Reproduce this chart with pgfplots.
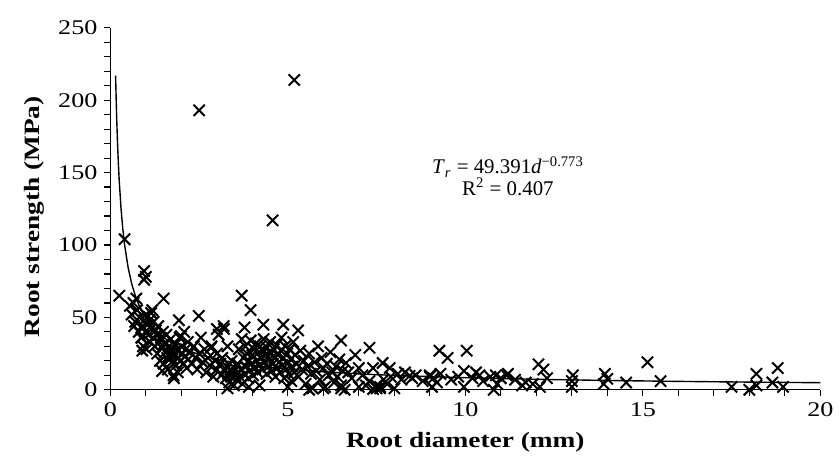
\documentclass[border=0pt]{standalone}
\usepackage{fontspec}
\setmainfont{Liberation Serif}[FakeStretch=1.25]
\newfontfamily\eqfont{Liberation Serif}
\usepackage{pgfplots}
\pgfplotsset{compat=1.18}
\begin{document}
\begin{tikzpicture}
\begin{axis}[
  name=ax,
  scale only axis,
  width=357pt, height=182pt,
  xmin=0, xmax=20, ymin=0, ymax=250,
  axis lines*=left,
  axis line style={line width=0.7pt},
  xtick={0,5,10,15,20}, minor x tick num=4,
  ytick={0,50,100,150,200,250}, minor y tick num=4,
  tick align=outside,
  major tick length=3pt, minor tick length=3pt,
  tick style={black, line width=0.6pt},
  /pgf/number format/assume math mode=true,
  ticklabel style={font=\fontsize{10.5}{12}\selectfont},
  xlabel={\textbf{Root diameter (mm)}},
  ylabel={\textbf{Root strength (MPa)}},
  label style={font=\fontsize{11}{13}\selectfont},
  xlabel style={yshift=-1pt},
  ylabel style={yshift=0pt, xshift=-4pt},
  clip=false,
]
\addplot[only marks, mark=x, mark size=4pt, line width=1pt, black] coordinates {
(2.50,193) (5.18,214) (4.57,117) (0.40,104)
(0.25,65) (0.73,63) (0.95,82) (0.95,76) (1.0,78) (1.5,63) (1.15,53) (1.93,48) (2.49,51)
(0.67,44) (0.87,36) (0.90,27) (1.32,38) (1.99,37) (1.71,22) (1.46,13) (1.79,8) (3.0,42) (2.83,29)
(3.70,65) (3.95,55) (4.31,45) (4.87,45) (3.19,44) (3.78,43) (5.29,41)
(6.5,34) (7.3,29) (6.9,24) (7.67,18.5) (6.64,18.5) (7.4,15) (7.87,15) (8.43,9.6) (9.0,10) (9.27,27)
(9.5,22) (10.04,27) (9.96,13) (10.4,10) (10.86,10) (11.16,10) (12.06,17.6) (12.2,14) (13.03,10)
(13.93,11) (14.0,7.5) (14.53,5) (15.13,19) (15.5,6) (17.5,2) (18.0,0) (18.2,11) (18.8,15) (18.65,5)
(18.95,2) (18.2,3) (11.9,4) (11.6,3) (10.8,0) (9.96,2) (9.06,2) (8.0,1) (7.5,1) (7.6,1) (7.4,0.5)
(13.0,2) (13.9,4)
(0.55,58) (0.6,52) (0.65,60) (0.7,47) (0.75,55) (0.8,40) (0.82,50) (0.88,36) (0.9,44) (0.92,30)
(0.95,48) (0.98,40) (1.0,52) (1.02,28) (1.05,45) (1.08,38) (1.1,48) (1.12,33) (1.15,42) (1.18,55)
(1.2,36) (1.22,47) (1.25,30) (1.28,41) (1.3,38) (1.32,25) (1.35,44) (1.38,33) (1.4,20) (1.42,36)
(1.45,29) (1.48,40) (1.5,18) (1.52,32) (1.55,26) (1.58,38) (1.6,22) (1.62,14) (1.65,30) (1.68,25)
(1.7,35) (1.72,19) (1.75,28) (1.78,10) (1.8,24) (1.82,31) (1.85,17) (1.88,27) (1.9,12) (1.92,22)
(1.95,36) (1.98,20) (2.0,30) (2.02,25) (2.05,18) (2.08,40) (2.1,23) (2.12,28) (2.15,15) (2.18,33)
(2.2,21) (2.25,26) (2.3,18) (2.35,30) (2.4,22) (2.45,14) (2.5,25) (2.55,36) (2.6,19) (2.65,28)
(2.7,12) (2.75,22) (2.8,17) (2.85,30) (2.9,9) (2.95,20) (3.0,14) (3.0,25) (3.05,38) (3.1,18)
(3.12,10) (3.15,22) (3.2,42) (3.22,13) (3.25,8) (3.28,16) (3.3,30) (3.32,11) (3.35,5) (3.38,14)
(3.4,9) (3.42,20) (3.45,12) (3.48,3) (3.5,15) (3.52,10) (3.55,7) (3.58,18) (3.6,12) (3.62,28)
(3.65,9) (3.68,14) (3.7,35) (3.72,4) (3.75,22) (3.78,11) (3.8,30) (3.82,16) (3.85,25) (3.88,8)
(3.9,20) (3.92,13) (3.95,34) (3.98,18) (4.0,24) (4.02,10) (4.05,28) (4.08,15) (4.1,32) (4.12,20)
(4.15,12) (4.18,26) (4.2,17) (4.22,30) (4.25,22) (4.28,14) (4.3,27) (4.32,35) (4.35,19) (4.38,24)
(4.4,11) (4.42,29) (4.45,16) (4.48,21) (4.5,33) (4.52,25) (4.55,13) (4.58,18) (4.6,28) (4.62,22)
(4.65,9) (4.68,31) (4.7,15) (4.72,24) (4.75,19) (4.78,12) (4.8,27) (4.82,36) (4.85,17) (4.88,22)
(4.9,8) (4.92,30) (4.95,14) (4.98,25) (5.0,18) (5.02,11) (5.05,28) (5.08,21) (5.1,6) (5.12,16)
(5.15,33) (5.18,12) (5.2,24) (5.25,18) (5.3,9) (5.35,27) (5.4,14) (5.45,20) (5.5,4) (5.55,16)
(5.6,25) (5.65,11) (5.7,1) (5.75,19) (5.8,13) (5.85,30) (5.9,7) (5.95,22) (6.0,15) (6.05,2)
(6.1,18) (6.15,10) (6.2,26) (6.25,12) (6.3,5) (6.35,16) (6.4,9) (6.45,21) (6.5,3) (6.55,13)
(3.3,1) (3.9,2) (4.2,3) (5.0,2) (5.6,0) (6.0,1) (6.6,0) (6.5,1) (7.0,2) (7.2,3)
(6.7,12) (6.8,8) (7.0,15) (7.1,10) (7.3,6) (7.5,3) (7.6,2) (7.7,7) (7.8,4) (7.9,9)
(8.1,11) (8.2,7) (8.3,12) (8.5,8) (8.6,10) (8.8,6) (9.0,9) (9.1,8) (9.2,5) (9.3,11)
(9.6,7) (9.8,9) (10.2,8) (10.3,12) (10.5,6) (10.7,9) (10.9,4) (11.0,8) (11.2,11) (11.4,7)
(11.7,5) (12.3,8) (12.1,2) (13.0,6)
};
\addplot[black, line width=0.7pt] coordinates {
(0.147,217) (0.175,190.0) (0.2,171.4) (0.225,156.5) (0.25,144.2) (0.3,125.3) (0.35,111.2)
(0.4,100.3) (0.5,84.4) (0.6,73.3) (0.7,65.1) (0.8,58.7) (0.9,53.6) (1,49.4) (1.25,41.6)
(1.5,36.1) (1.75,32.0) (2,28.9) (2.5,24.3) (3,21.1) (3.5,18.75) (4,16.9) (5,14.2) (6,12.4)
(7,10.97) (8,9.90) (10,8.33) (12,7.24) (14,6.42) (16,5.79) (18,5.29) (20,4.88)
};
\node[font=\eqfont\fontsize{10.5}{12}\selectfont] at (axis cs:11.2,154) {\textit{T}\textsubscript{\textit{r}} = 49.391\textit{d}\textsuperscript{−0.773}};
\node[font=\eqfont\fontsize{10.5}{12}\selectfont] at (axis cs:11.2,140) {R\textsuperscript{2} = 0.407};
\end{axis}
\path ([shift={(-55.5pt,-41.5pt)}]ax.south west) rectangle ([shift={(7.5pt,14pt)}]ax.north east);
\end{tikzpicture}
\end{document}
